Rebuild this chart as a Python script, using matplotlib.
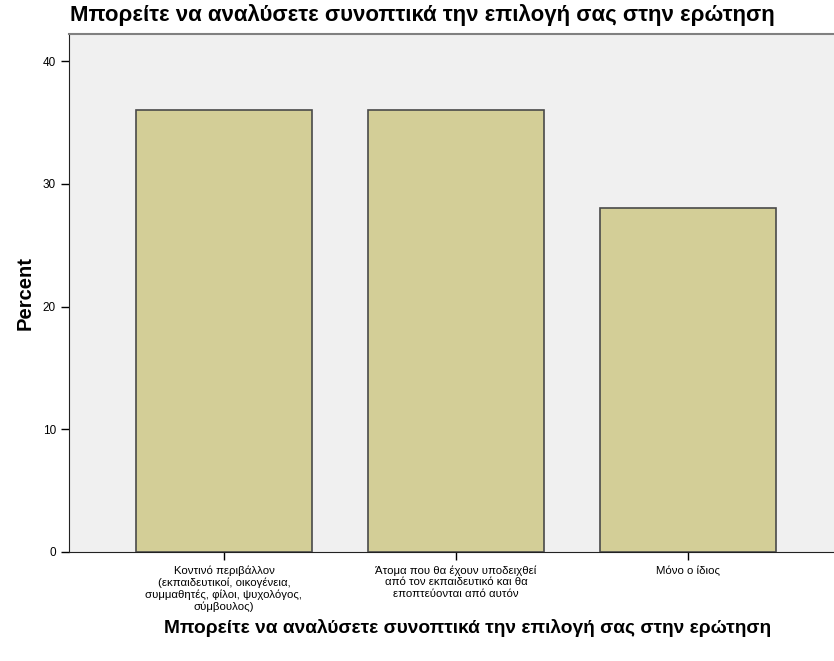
import matplotlib.pyplot as plt
import numpy as np

categories = [
    "Κοντινό περιβάλλον\n(εκπαιδευτικοί, οικογένεια,\nσυμμαθητές, φίλοι, ψυχολόγος,\nσύμβουλος)",
    "Άτομα που θα έχουν υποδειχθεί\nαπό τον εκπαιδευτικό και θα\nεποπτεύονται από αυτόν",
    "Μόνο ο ίδιος",
]
percent = [36.0, 36.0, 28.0]
yticks = [0, 10, 20, 30, 40]
title = "Μπορείτε να αναλύσετε συνοπτικά την επιλογή σας στην ερώτηση"


def main():
    plt.rcParams['font.family'] = ['Liberation Sans', 'DejaVu Sans']
    fig = plt.figure(figsize=(8.34, 6.61), dpi=100)
    ax = fig.add_axes([69 / 834, 1 - 552 / 661, 1 - 69 / 834, (552 - 34) / 661])
    ax.set_facecolor("#f0f0f0")

    x = np.arange(len(categories))
    ax.bar(x, percent, width=0.76, color="#d3ce97", edgecolor="#4a4a4a",
           linewidth=1.2, zorder=3)

    ax.set_xlim(-0.668, 2.63)
    ax.set_ylim(0, 42.2)
    ax.set_yticks(yticks)
    ax.set_xticks(x)
    ax.set_xticklabels(categories, fontsize=8.2, linespacing=1.2)
    ax.tick_params(axis='y', labelsize=8.5, length=6, width=1, direction='out')
    ax.tick_params(axis='x', length=6, width=1, direction='out')

    ax.spines["right"].set_visible(False)
    ax.spines["top"].set_color("#808080")
    ax.spines["top"].set_linewidth(1.5)
    ax.spines["left"].set_color("#222222")
    ax.spines["bottom"].set_color("#222222")

    ax.set_ylabel("Percent", fontsize=14.5, fontweight="bold", labelpad=6)
    ax.set_xlabel(title, fontsize=13.8, fontweight="bold")
    ax.xaxis.set_label_coords(0.521, -0.13)
    fig.text(70 / 834, 1 - 15 / 661, title, fontsize=16, fontweight="bold",
             va="center", ha="left")

    fig.savefig("out.png", dpi=100)


if __name__ == "__main__":
    main()
